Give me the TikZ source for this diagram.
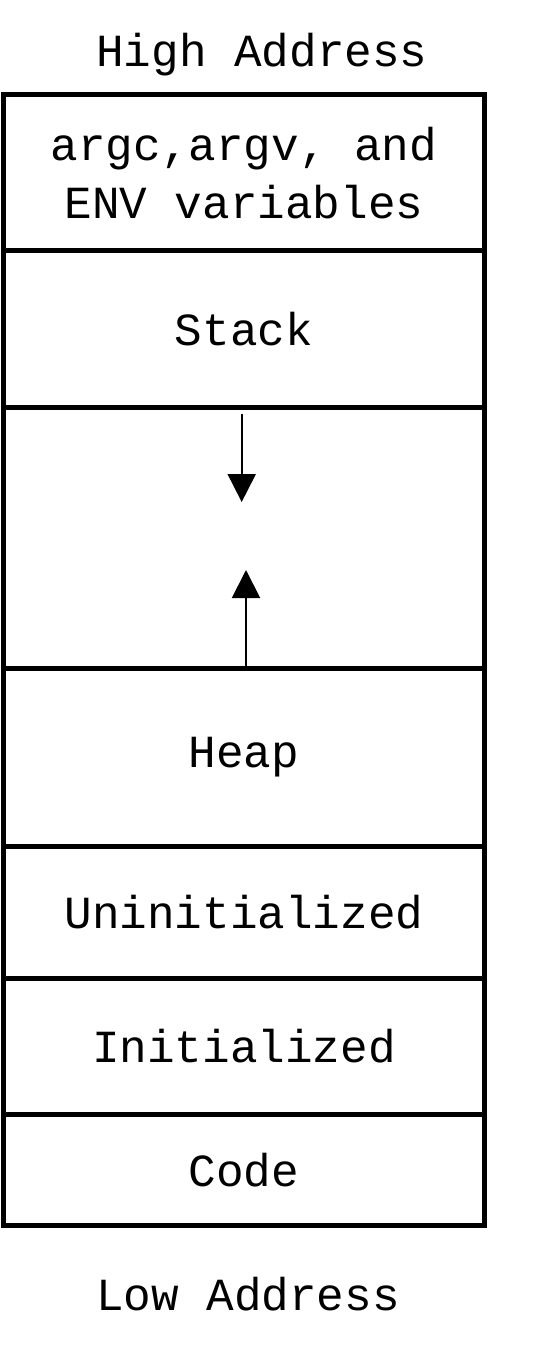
\documentclass[tikz,border=0pt]{standalone}
\usepackage{fontspec}
\setmainfont{Liberation Mono}
\usetikzlibrary{arrows.meta}

\begin{document}
\begin{tikzpicture}[x=1pt, y=-1pt]
    % Define styles
    \tikzstyle{segment} = [rectangle, minimum width=481pt, inner sep=0pt, text centered, align=center, draw=black, line width=5pt, font=\fontsize{46}{58}\selectfont]
    \tikzstyle{addrlabel} = [inner sep=0pt, font=\fontsize{46}{58}\selectfont]
    \tikzstyle{growth} = [-{Triangle[length=28pt, width=28pt]}, line width=2pt]

    \useasboundingbox (0,0) rectangle (536,1356);

    % Address labels
    \node [addrlabel] (high_addr) at (262,55) {High Address};
    \node [addrlabel] (low_addr) at (248,1294.5) {Low Address};

    % Memory segments, top to bottom
    \node [segment, minimum height=155.5pt] (args_seg) at (244,172.75) {argc,argv, and\\ENV variables};
    \node [segment, minimum height=157pt] (stack_seg) at (244,329) {Stack};
    \node [segment, minimum height=260.5pt] (free_seg) at (244,537.75) {};
    \node [segment, minimum height=178.5pt] (heap_seg) at (244,757.25) {Heap};
    \node [segment, minimum height=132pt] (uninit_seg) at (244,912.5) {Uninitialized};
    \node [segment, minimum height=136pt] (init_seg) at (244,1046.5) {Initialized};
    \node [segment, minimum height=110.5pt] (code_seg) at (244,1169.75) {Code};

    % Stack grows down, heap grows up
    \coordinate (stack_tip) at (241.7,502);
    \coordinate (heap_tip) at (246,570);
    \draw [growth] ([xshift=-2.3pt, yshift=-8.5pt]free_seg.north) -- (stack_tip);
    \draw [growth] ([xshift=2pt]heap_seg.north) -- (heap_tip);
\end{tikzpicture}
\end{document}
